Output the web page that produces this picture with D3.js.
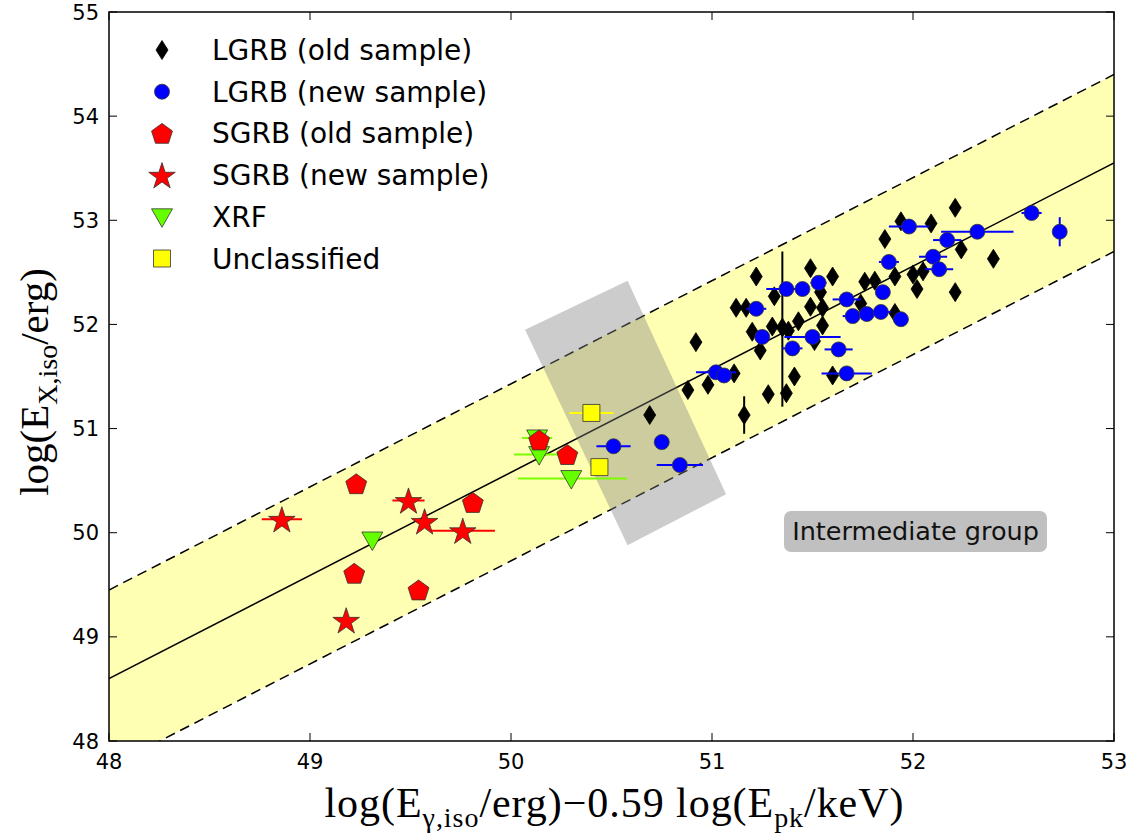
<!DOCTYPE html>
<html>
<head>
<meta charset="utf-8">
<script src="https://cdn.jsdelivr.net/npm/d3@7"></script>
<style>
  body { margin: 0; background: #fff; }
  svg { display: block; }
  text { font-family: "DejaVu Sans", sans-serif; }
  .math { font-family: "Liberation Serif", "DejaVu Serif", serif; }
</style>
</head>
<body>
<script>
// --- data ---
// [x, y, xerr, yerr]  (xerr / yerr may be 0; asymmetric as [lo, hi])
var lgrbOld = [
  [50.69, 51.13, 0, 0], [50.88, 51.37, 0, 0], [50.98, 51.42, 0, 0], [50.92, 51.83, 0, 0],
  [51.11, 51.53, 0, 0], [51.16, 51.13, 0, 0.18], [51.22, 52.46, 0, 0], [51.12, 52.16, 0, 0],
  [51.17, 52.16, 0, 0], [51.20, 51.93, 0, 0], [51.24, 51.75, 0, 0], [51.28, 51.33, 0, 0],
  [51.30, 51.98, 0, 0], [51.31, 52.27, 0, 0], [51.35, 51.97, 0, [0.76, 0.73]], [51.38, 51.94, 0, 0],
  [51.37, 51.34, 0, 0], [51.41, 51.50, 0, 0], [51.43, 52.03, 0, 0], [51.49, 52.54, 0, 0],
  [51.49, 52.17, 0, 0], [51.51, 51.84, 0, 0], [51.54, 52.31, 0, 0], [51.55, 52.16, 0, 0],
  [51.55, 51.99, 0, 0], [51.60, 52.46, 0, 0], [51.60, 51.51, 0, 0], [51.74, 52.20, 0, 0],
  [51.76, 52.41, 0, 0], [51.81, 52.42, 0, 0], [51.91, 52.46, 0, 0], [52.00, 52.48, 0, 0],
  [52.05, 52.51, 0, 0], [52.02, 52.34, 0, 0], [52.21, 52.31, 0, 0], [51.94, 52.99, 0, 0],
  [52.09, 52.97, 0, 0], [51.86, 52.82, 0, 0], [52.21, 53.12, 0, 0], [52.24, 52.72, 0, 0],
  [52.40, 52.63, 0, 0], [51.91, 52.11, 0, 0]
]
var lgrbNew = [
  [50.51, 50.83, 0.085, 0], [50.75, 50.87, 0, 0], [50.84, 50.65, 0.115, 0], [51.02, 51.54, 0.1, 0],
  [51.06, 51.51, 0, 0], [51.22, 52.15, 0.05, 0], [51.25, 51.88, 0, 0], [51.37, 52.34, 0.1, 0],
  [51.45, 52.34, 0, 0], [51.53, 52.40, 0.04, 0], [51.40, 51.77, 0.05, 0], [51.50, 51.88, 0.14, 0],
  [51.63, 51.76, 0.07, 0], [51.67, 51.53, 0.125, 0], [51.67, 52.24, 0.07, 0], [51.70, 52.08, 0.05, 0],
  [51.77, 52.10, 0, 0], [51.84, 52.12, 0.05, 0], [51.94, 52.05, 0, 0], [51.85, 52.31, 0, 0],
  [51.88, 52.60, 0.05, 0], [51.98, 52.94, 0.1, 0], [52.10, 52.65, 0.07, 0], [52.13, 52.53, 0.07, 0],
  [52.17, 52.81, 0.07, 0], [52.32, 52.89, 0.18, 0], [52.59, 53.07, 0.05, 0], [52.73, 52.89, 0, 0.14]
]
var sgrbOld = [
  [49.23, 50.47, 0, 0], [49.81, 50.29, 0, 0], [49.22, 49.61, 0, 0],
  [49.54, 49.45, 0, 0], [50.14, 50.89, 0, 0], [50.28, 50.75, 0, 0]
]
var sgrbNew = [
  [48.86, 50.13, 0.1, 0], [49.49, 50.31, 0.08, 0], [49.57, 50.11, 0, 0],
  [49.76, 50.02, 0.16, 0], [49.18, 49.16, 0, 0]
]
var xrf = [
  [49.31, 49.93, 0, 0], [50.13, 50.91, 0.075, 0], [50.14, 50.75, 0.125, 0], [50.30, 50.52, [0.265, 0.277], 0]
]
var unclassified = [
  [50.40, 51.15, 0.11, 0], [50.44, 50.63, 0, 0]
]

// best fit and 3 sigma band
var fitIntercept = 1.08, fitSlope = 0.99, bandHalf = 0.85
// shaded "intermediate" region (corners, data units)
var intermediateBox = [[50.07, 51.95], [50.58, 52.42], [51.07, 50.37], [50.58, 49.88]]

var xTicks = [48, 49, 50, 51, 52, 53]
var yTicks = [48, 49, 50, 51, 52, 53, 54, 55]

var width = 1136, height = 834
var margin = {left: 109, right: 22, top: 12, bottom: 93}
var W = width - margin.left - margin.right, H = height - margin.top - margin.bottom

var svg = d3.select('body').append('svg')
  .attr('width', width)
  .attr('height', height)

var x = d3.scaleLinear().domain([48, 53]).range([margin.left, margin.left + W])
var y = d3.scaleLinear().domain([48, 55]).range([margin.top + H, margin.top])

svg.append('clipPath').attr('id', 'plot')
  .append('rect').attr('x', margin.left).attr('y', margin.top).attr('width', W).attr('height', H)

var plot = svg.append('g').attr('clip-path', 'url(#plot)')

function fit(v){ return fitIntercept + fitSlope * v }

// yellow band
var band = [48, 53].map(function(v){ return [x(v), y(fit(v) + bandHalf)] })
  .concat([53, 48].map(function(v){ return [x(v), y(fit(v) - bandHalf)] }))
plot.append('polygon')
  .attr('points', band.map(function(p){ return p.join(',') }).join(' '))
  .attr('fill', '#ffffb4')

var line = d3.line().x(function(v){ return x(v) }).y(function(v){ return y(fit(v)) })
plot.append('path').attr('d', line([48, 53])).attr('stroke', '#000').attr('stroke-width', 1.5).attr('fill', 'none')
;[bandHalf, -bandHalf].forEach(function(off){
  plot.append('path')
    .attr('d', d3.line().x(function(v){ return x(v) }).y(function(v){ return y(fit(v) + off) })([48, 53]))
    .attr('stroke', '#000').attr('stroke-width', 1.5).attr('stroke-dasharray', '10,6').attr('fill', 'none')
})

plot.append('polygon')
  .attr('points', intermediateBox.map(function(p){ return x(p[0]) + ',' + y(p[1]) }).join(' '))
  .attr('fill', '#808080').attr('fill-opacity', 0.4)

// marker shapes
function poly(pts){ return 'M' + pts.map(function(p){ return p[0].toFixed(2) + ',' + p[1].toFixed(2) }).join('L') + 'Z' }
var shapes = {
  diamond: function(){ return poly([[0, -9.5], [6, 0], [0, 9.5], [-6, 0]]) },
  circle: function(){ return d3.symbol(d3.symbolCircle, Math.PI * 7.5 * 7.5)() },
  pentagon: function(){
    var r = 11, pts = []
    for (var k = 0; k < 5; k++){ var a = -Math.PI / 2 + k * 2 * Math.PI / 5; pts.push([r * Math.cos(a), r * Math.sin(a) + 1]) }
    return poly(pts)
  },
  star: function(){
    var R = 14, r = R * 0.382, pts = []
    for (var k = 0; k < 10; k++){ var a = -Math.PI / 2 + k * Math.PI / 5, rr = k % 2 ? r : R; pts.push([rr * Math.cos(a), rr * Math.sin(a) + 1.5]) }
    return poly(pts)
  },
  triangle: function(){ return poly([[-10.5, -8], [10.5, -8], [0, 10.5]]) },
  square: function(){ return poly([[-8.5, -8.5], [8.5, -8.5], [8.5, 8.5], [-8.5, 8.5]]) }
}

var series = [
  {name: 'LGRB (old sample)', data: lgrbOld, shape: 'diamond', fill: '#000000', err: '#000000'},
  {name: 'LGRB (new sample)', data: lgrbNew, shape: 'circle', fill: '#0000ff', err: '#0000ff'},
  {name: 'SGRB (old sample)', data: sgrbOld, shape: 'pentagon', fill: '#ff0000', err: '#ff0000'},
  {name: 'SGRB (new sample)', data: sgrbNew, shape: 'star', fill: '#ff0000', err: '#ff0000'},
  {name: 'XRF', data: xrf, shape: 'triangle', fill: '#66ff00', err: '#7cfc00'},
  {name: 'Unclassified', data: unclassified, shape: 'square', fill: '#ffff00', err: '#ffff00'}
]
var drawOrder = [0, 1, 4, 2, 3, 5]

function lohi(e){ return Array.isArray(e) ? e : [e, e] }

// error bars first, then markers
var pts = svg.append('g')
drawOrder.forEach(function(i){
  var s = series[i]
  var g = pts.append('g')
  s.data.forEach(function(d){
    var ex = lohi(d[2]), ey = lohi(d[3])
    if (ex[0] || ex[1]) g.append('line')
      .attr('x1', x(d[0] - ex[0])).attr('x2', x(d[0] + ex[1]))
      .attr('y1', y(d[1])).attr('y2', y(d[1]))
      .attr('stroke', s.err).attr('stroke-width', 2)
    if (ey[0] || ey[1]) g.append('line')
      .attr('x1', x(d[0])).attr('x2', x(d[0]))
      .attr('y1', y(d[1] - ey[0])).attr('y2', y(d[1] + ey[1]))
      .attr('stroke', s.err).attr('stroke-width', 2)
  })
  g.selectAll('path.m').data(s.data).enter().append('path')
    .attr('class', 'm')
    .attr('d', shapes[s.shape]())
    .attr('transform', function(d){ return 'translate(' + x(d[0]) + ',' + y(d[1]) + ')' })
    .attr('fill', s.fill)
    .attr('stroke', s.shape === 'diamond' ? '#000' : '#333')
    .attr('stroke-width', 0.8)
})

// frame and ticks (inward, all sides)
svg.append('rect')
  .attr('x', margin.left).attr('y', margin.top).attr('width', W).attr('height', H)
  .attr('fill', 'none').attr('stroke', '#000').attr('stroke-width', 1.5)

var ax = svg.append('g')
xTicks.forEach(function(t){
  ax.append('line').attr('x1', x(t)).attr('x2', x(t)).attr('y1', margin.top + H).attr('y2', margin.top + H - 8).attr('stroke', '#000')
  ax.append('line').attr('x1', x(t)).attr('x2', x(t)).attr('y1', margin.top).attr('y2', margin.top + 8).attr('stroke', '#000')
  ax.append('text').attr('x', x(t)).attr('y', 769)
    .attr('text-anchor', 'middle').attr('font-size', 21).attr('fill', '#000').text(t)
})
yTicks.forEach(function(t){
  ax.append('line').attr('x1', margin.left).attr('x2', margin.left + 8).attr('y1', y(t)).attr('y2', y(t)).attr('stroke', '#000')
  ax.append('line').attr('x1', margin.left + W).attr('x2', margin.left + W - 8).attr('y1', y(t)).attr('y2', y(t)).attr('stroke', '#000')
  ax.append('text').attr('x', margin.left - 10).attr('y', y(t) + 7.5)
    .attr('text-anchor', 'end').attr('font-size', 21).attr('fill', '#000').text(t)
})

// axis labels
var xl = svg.append('text').attr('class', 'math')
  .attr('x', 614).attr('y', 817).attr('text-anchor', 'middle').attr('font-size', 42).attr('fill', '#000')
  .attr('textLength', 579).attr('lengthAdjust', 'spacing')
xl.append('tspan').text('log(E')
xl.append('tspan').attr('font-size', 28).attr('dy', 10).text('γ,iso')
xl.append('tspan').attr('dy', -10).text('/erg)−0.59 log(E')
xl.append('tspan').attr('font-size', 28).attr('dy', 10).text('pk')
xl.append('tspan').attr('dy', -10).text('/keV)')

var yl = svg.append('text').attr('class', 'math')
  .attr('transform', 'translate(48,382) rotate(-90)')
  .attr('text-anchor', 'middle').attr('font-size', 41).attr('fill', '#000')
yl.append('tspan').text('log(E')
yl.append('tspan').attr('font-size', 28).attr('dy', 9).text('X,iso')
yl.append('tspan').attr('dy', -9).text('/erg)')

// legend
var leg = svg.append('g')
series.forEach(function(s, i){
  var ly = 50 + i * 41.7
  leg.append('path').attr('d', shapes[s.shape]())
    .attr('transform', 'translate(162,' + ly + ')')
    .attr('fill', s.fill).attr('stroke', s.shape === 'diamond' ? '#000' : '#333').attr('stroke-width', 0.8)
  leg.append('text').attr('x', 212).attr('y', ly + 10)
    .attr('font-size', 28).attr('fill', '#000').text(s.name)
})

// annotation
var ann = svg.append('g')
ann.append('rect').attr('x', 784).attr('y', 511).attr('width', 263).attr('height', 41)
  .attr('rx', 7).attr('fill', '#c0c0c0')
ann.append('text').attr('x', 915.5).attr('y', 540).attr('text-anchor', 'middle')
  .attr('font-size', 25.5).attr('fill', '#111').text('Intermediate group')
</script>
</body>
</html>
